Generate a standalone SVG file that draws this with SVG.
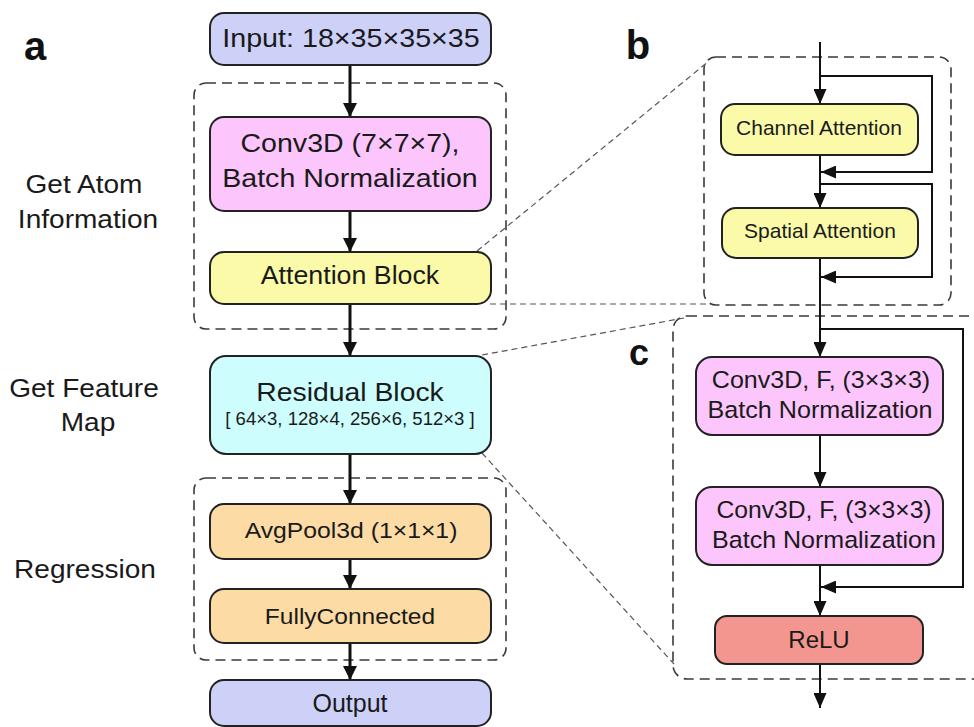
<svg xmlns="http://www.w3.org/2000/svg" width="974" height="727" viewBox="0 0 974 727">
<defs>
<style>
.t{font-family:"Liberation Sans",Arial,sans-serif;fill:#1a1a1a;text-anchor:middle}
.node{stroke:#222;stroke-width:2}
.grp{fill:none;stroke:#3a3a3a;stroke-width:1.6;stroke-dasharray:10 6}
.zoom{fill:none;stroke:#555;stroke-width:1.2;stroke-dasharray:6 4}
.ca{stroke:#111;stroke-width:3;fill:none}
.cb{stroke:#111;stroke-width:2;fill:none}
.lab{font-family:"Liberation Sans",Arial,sans-serif;font-weight:bold;fill:#111;text-anchor:middle}
</style>
<marker id="ah" markerWidth="14" markerHeight="15" refX="14" refY="7" orient="auto" markerUnits="userSpaceOnUse">
<path d="M0,0 L14,7 L0,14 z" fill="#111"/>
</marker>
<marker id="ahs" markerWidth="15" markerHeight="13" refX="15" refY="6.5" orient="auto" markerUnits="userSpaceOnUse">
<path d="M0,0 L15,6.5 L0,13 z" fill="#111"/>
</marker>
</defs>
<rect width="974" height="727" fill="#fff"/>

<!-- group boxes -->
<g id="groups">
<rect class="grp" x="194" y="83" width="312" height="246" rx="12"/>
<rect class="grp" x="194" y="478" width="312" height="182" rx="12"/>
<rect class="grp" x="704" y="57" width="247" height="248" rx="12"/>
<rect class="grp" x="673" y="316" width="330" height="363" rx="14"/>
</g>

<!-- panel labels and side texts -->
<g id="labels">
<text class="lab" x="35" y="60" font-size="40">a</text>
<text class="lab" x="638" y="59" font-size="40">b</text>
<text class="lab" x="639" y="365" font-size="36">c</text>
<text class="t" font-size="25.5" transform="translate(84,193) scale(1.1,1)">Get Atom</text>
<text class="t" font-size="25.5" transform="translate(88,228) scale(1.1,1)">Information</text>
<text class="t" font-size="25.5" transform="translate(84,397) scale(1.1,1)">Get Feature</text>
<text class="t" font-size="25.5" transform="translate(88,431) scale(1.1,1)">Map</text>
<text class="t" font-size="25.5" transform="translate(85,578) scale(1.1,1)">Regression</text>
</g>

<!-- connectors -->
<g id="connectors">
<line class="zoom" x1="477" y1="251" x2="709" y2="61"/>
<line class="zoom" x1="490" y1="304" x2="712" y2="304"/>
<line class="zoom" x1="482" y1="355" x2="684" y2="318"/>
<line class="zoom" x1="482" y1="453" x2="674" y2="664"/>

<line class="ca" x1="350" y1="65" x2="350" y2="117" marker-end="url(#ah)"/>
<line class="ca" x1="350" y1="211" x2="350" y2="252" marker-end="url(#ah)"/>
<line class="ca" x1="350" y1="304" x2="350" y2="356" marker-end="url(#ah)"/>
<line class="ca" x1="350" y1="454" x2="350" y2="504" marker-end="url(#ah)"/>
<line class="ca" x1="350" y1="559" x2="350" y2="589" marker-end="url(#ah)"/>
<line class="ca" x1="350" y1="643" x2="350" y2="680" marker-end="url(#ah)"/>

<line class="cb" x1="820" y1="42" x2="820" y2="104" marker-end="url(#ahs)"/>
<polyline class="cb" points="820,76 932,76 932,172 821,172" marker-end="url(#ahs)"/>
<line class="cb" x1="820" y1="155" x2="820" y2="208" marker-end="url(#ahs)"/>
<polyline class="cb" points="820,184 932,184 932,277 821,277" marker-end="url(#ahs)"/>
<line class="cb" x1="820" y1="258" x2="820" y2="357" marker-end="url(#ahs)"/>
<polyline class="cb" points="820,329 963,329 963,587 821,587" marker-end="url(#ahs)"/>
<line class="cb" x1="820" y1="435" x2="820" y2="487" marker-end="url(#ahs)"/>
<line class="cb" x1="820" y1="565" x2="820" y2="616" marker-end="url(#ahs)"/>
<line class="cb" x1="820" y1="664" x2="820" y2="708" marker-end="url(#ahs)"/>
</g>

<!-- panel a nodes -->
<g id="input">
<rect class="node" x="210" y="13" width="281" height="52" rx="14" fill="#cdd1f8"/>
<text class="t" font-size="25.5" transform="translate(351,47) scale(1.125,1)">Input: 18×35×35×35</text>
</g>
<g id="conv3d">
<rect class="node" x="210" y="117" width="281" height="94" rx="14" fill="#fcc6fc"/>
<text class="t" font-size="25.5" transform="translate(350,152) scale(1.12,1)">Conv3D (7×7×7),</text>
<text class="t" font-size="25.5" transform="translate(350,187) scale(1.12,1)">Batch Normalization</text>
</g>
<g id="attention">
<rect class="node" x="210" y="252" width="281" height="52" rx="14" fill="#fafaa8"/>
<text class="t" font-size="25.5" transform="translate(350,284) scale(1.05,1)">Attention Block</text>
</g>
<g id="residual">
<rect class="node" x="210" y="356" width="281" height="98" rx="16" fill="#cdfdfd"/>
<text class="t" font-size="26.5" transform="translate(350,401) scale(1.07,1)">Residual Block</text>
<text class="t" font-size="18" transform="translate(350,425) scale(1.03,1)">[ 64×3, 128×4, 256×6, 512×3 ]</text>
</g>
<g id="avgpool">
<rect class="node" x="210" y="504" width="281" height="55" rx="14" fill="#fcdba5"/>
<text class="t" font-size="22.5" transform="translate(351,538) scale(1.1,1)">AvgPool3d (1×1×1)</text>
</g>
<g id="fc">
<rect class="node" x="210" y="589" width="281" height="54" rx="14" fill="#fcdba5"/>
<text class="t" font-size="22.5" transform="translate(350,624) scale(1.09,1)">FullyConnected</text>
</g>
<g id="output">
<rect class="node" x="210" y="680" width="281" height="46" rx="14" fill="#cdd1f8"/>
<text class="t" font-size="25" x="350" y="712">Output</text>
</g>

<!-- panel b nodes -->
<g id="channel">
<rect class="node" x="721" y="104" width="197" height="51" rx="14" fill="#fafaa8"/>
<text class="t" font-size="21" x="819" y="135">Channel Attention</text>
</g>
<g id="spatial">
<rect class="node" x="722" y="208" width="196" height="50" rx="14" fill="#fafaa8"/>
<text class="t" font-size="21" x="820" y="238">Spatial Attention</text>
</g>

<!-- panel c nodes -->
<g id="conv1">
<rect class="node" x="696" y="357" width="247" height="78" rx="16" fill="#fcc6fc"/>
<text class="t" font-size="23.5" transform="translate(821,388) scale(1.065,1)">Conv3D, F, (3×3×3)</text>
<text class="t" font-size="23.5" transform="translate(820,418) scale(1.07,1)">Batch Normalization</text>
</g>
<g id="conv2">
<rect class="node" x="696" y="487" width="247" height="78" rx="16" fill="#fcc6fc"/>
<text class="t" font-size="23.5" transform="translate(824,518) scale(1.05,1)">Conv3D, F, (3×3×3)</text>
<text class="t" font-size="23.5" transform="translate(824,548) scale(1.065,1)">Batch Normalization</text>
</g>
<g id="relu">
<rect class="node" x="715" y="616" width="208" height="48" rx="12" fill="#f2968f"/>
<text class="t" font-size="24" x="819" y="648">ReLU</text>
</g>
</svg>
